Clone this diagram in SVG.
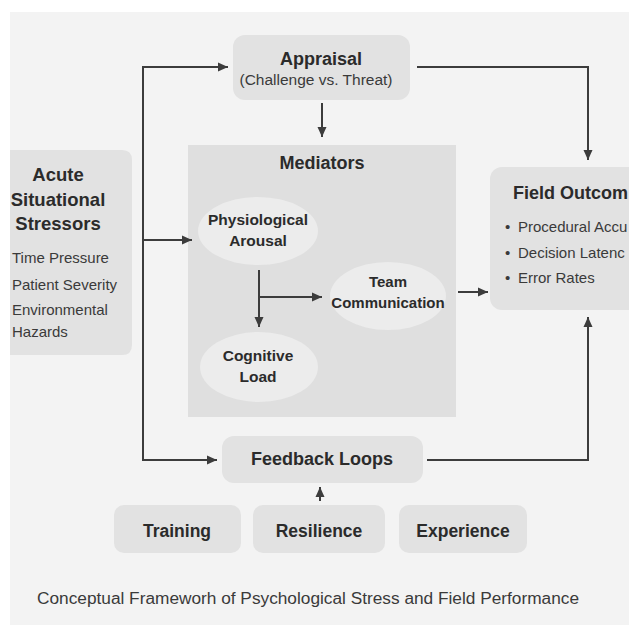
<svg xmlns="http://www.w3.org/2000/svg" width="629" height="625" viewBox="0 0 629 625">
  <defs>
    <marker id="ah" viewBox="0 0 10 10" refX="10" refY="5" markerWidth="10" markerHeight="10" markerUnits="userSpaceOnUse" orient="auto">
      <path d="M0,0.5 L10,5 L0,9.5 Z" fill="#3c3c3c"/>
    </marker>
    <style>
      .box { fill: #e2e2e2; }
      .med { fill: #dfdfdf; }
      .ell { fill: #ececec; }
      .t { font-family: "Liberation Sans", Arial, sans-serif; font-weight: bold; fill: #2b2b2b; text-anchor: middle; }
      .ts { font-family: "Liberation Sans", Arial, sans-serif; font-weight: bold; fill: #2b2b2b; text-anchor: start; }
      .r { font-family: "Liberation Sans", Arial, sans-serif; fill: #3a3a3a; }
      .c { fill: none; stroke: #3c3c3c; stroke-width: 2; }
    </style>
  </defs>
  <rect x="0" y="0" width="629" height="625" fill="#ffffff"/>
  <rect x="10" y="12" width="619" height="613" fill="#f3f3f3"/>

  <g id="mediators">
    <rect class="med" x="188" y="145" width="268" height="272"/>
    <text class="t" x="322" y="169" font-size="18">Mediators</text>
  </g>

  <g id="appraisal">
    <rect class="box" x="233" y="35" width="177" height="65" rx="12"/>
    <text class="t" x="321" y="65" font-size="18">Appraisal</text>
    <text class="r" x="316" y="85" font-size="15.5" text-anchor="middle">(Challenge vs. Threat)</text>
  </g>

  <g id="stressors">
    <path class="box" d="M10,150 H122 Q132,150 132,160 V345 Q132,355 122,355 H10 Z"/>
    <text class="t" x="58" y="181" font-size="18.5">Acute</text>
    <text class="t" x="58" y="206" font-size="18.5">Situational</text>
    <text class="t" x="58" y="230" font-size="18.5">Stressors</text>
    <text class="r" x="12" y="263" font-size="15">Time Pressure</text>
    <text class="r" x="12" y="290" font-size="15">Patient Severity</text>
    <text class="r" x="12" y="315" font-size="15">Environmental</text>
    <text class="r" x="12" y="337" font-size="15">Hazards</text>
  </g>

  <g id="arousal">
    <ellipse class="ell" cx="258" cy="231" rx="60" ry="34"/>
    <text class="t" x="258" y="225" font-size="15.5">Physiological</text>
    <text class="t" x="258" y="246" font-size="15.5">Arousal</text>
  </g>

  <g id="team">
    <ellipse class="ell" cx="388" cy="296" rx="58" ry="34"/>
    <text class="t" x="388" y="287" font-size="15">Team</text>
    <text class="t" x="388" y="308" font-size="15">Communication</text>
  </g>

  <g id="cognitive">
    <ellipse class="ell" cx="259" cy="367" rx="59" ry="35"/>
    <text class="t" x="258" y="361" font-size="15.5">Cognitive</text>
    <text class="t" x="258" y="382" font-size="15.5">Load</text>
  </g>

  <g id="outcomes">
    <rect class="box" x="490" y="167" width="170" height="143" rx="12"/>
    <text class="ts" x="513" y="199" font-size="18">Field Outcom</text>
    <text class="r" x="505" y="232" font-size="15">•</text>
    <text class="r" x="518" y="232" font-size="15">Procedural Accu</text>
    <text class="r" x="505" y="258" font-size="15">•</text>
    <text class="r" x="518" y="258" font-size="15">Decision Latenc</text>
    <text class="r" x="505" y="283" font-size="15">•</text>
    <text class="r" x="518" y="283" font-size="15">Error Rates</text>
  </g>

  <g id="feedback">
    <rect class="box" x="222" y="436" width="201" height="47" rx="12"/>
    <text class="t" x="322" y="465" font-size="18">Feedback Loops</text>
  </g>

  <g id="training">
    <rect class="box" x="114" y="505" width="127" height="48" rx="10"/>
    <text class="t" x="177" y="537" font-size="17.5">Training</text>
  </g>
  <g id="resilience">
    <rect class="box" x="253" y="505" width="132" height="48" rx="10"/>
    <text class="t" x="319" y="537" font-size="17.5">Resilience</text>
  </g>
  <g id="experience">
    <rect class="box" x="399" y="505" width="128" height="48" rx="10"/>
    <text class="t" x="463" y="537" font-size="17.5">Experience</text>
  </g>

  <g id="connectors">
    <polyline class="c" points="143,67 143,460 217,460" marker-end="url(#ah)"/>
    <path class="c" d="M142,67 H228" marker-end="url(#ah)"/>
    <path class="c" d="M143,240 H192" marker-end="url(#ah)"/>
    <path class="c" d="M322,103 V137" marker-end="url(#ah)"/>
    <path class="c" d="M417,67 H588 V160" marker-end="url(#ah)"/>
    <path class="c" d="M259,270 V327" marker-end="url(#ah)"/>
    <path class="c" d="M259,297 H322" marker-end="url(#ah)"/>
    <path class="c" d="M458,292 H488" marker-end="url(#ah)"/>
    <path class="c" d="M427,460 H588 V317" marker-end="url(#ah)"/>
    <path class="c" d="M320,501 V487" marker-end="url(#ah)"/>
  </g>

  <text class="r" x="37" y="604" font-size="16" textLength="542" lengthAdjust="spacingAndGlyphs" fill="#333">Conceptual Frameworh of Psychological Stress and Field Performance</text>
</svg>
